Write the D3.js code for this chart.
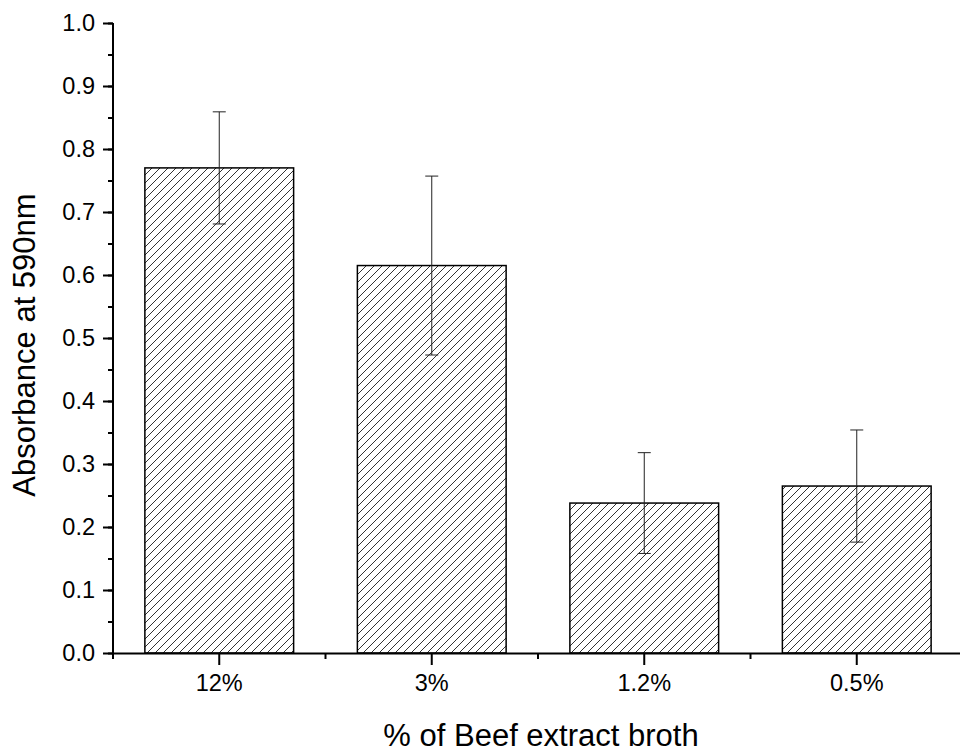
<!DOCTYPE html>
<html>
<head>
<meta charset="utf-8">
<script src="https://cdn.jsdelivr.net/npm/d3@7"></script>
<style>
  body { margin: 0; background: #fff; }
  text { font-family: "Liberation Sans", Arial, sans-serif; fill: #000; }
</style>
</head>
<body>
<div id="chart"></div>
<script>
// data
var categories = ["12%", "3%", "1.2%", "0.5%"];
var values = [0.770, 0.615, 0.238, 0.265];
var errors = [0.089, 0.142, 0.080, 0.089];
var yTicks = [0.0, 0.1, 0.2, 0.3, 0.4, 0.5, 0.6, 0.7, 0.8, 0.9, 1.0];

var margin = {top: 23, right: 0, bottom: 101, left: 113},
    width = 850,
    height = 754 - margin.top - margin.bottom;

var svg = d3.select("#chart")
  .append("svg")
  .attr("width", 960)
  .attr("height", 754)
  .append("g")
  .attr("transform", "translate(" + margin.left + "," + margin.top + ")");

// hatch fill
svg.append("defs").append("pattern")
  .attr("id", "hatch")
  .attr("patternUnits", "userSpaceOnUse")
  .attr("width", 8)
  .attr("height", 8)
  .append("path")
  .attr("d", "M-2,2 l4,-4 M0,8 l8,-8 M6,10 l4,-4")
  .attr("stroke", "#333")
  .attr("stroke-width", 1);

var x = d3.scaleBand()
  .domain(categories)
  .range([0, width])
  .paddingInner(0.3)
  .paddingOuter(0.15);

var y = d3.scaleLinear()
  .domain([0, 1])
  .range([height, 0]);

// bars
svg.selectAll(".bar")
  .data(values)
  .enter().append("rect")
  .attr("class", "bar")
  .attr("x", function(d, i) { return x(categories[i]); })
  .attr("y", function(d) { return y(d); })
  .attr("width", x.bandwidth())
  .attr("height", function(d) { return height - y(d); })
  .attr("fill", "url(#hatch)")
  .attr("stroke", "#000")
  .attr("stroke-width", 1.5);

// error bars
var err = svg.selectAll(".err")
  .data(values)
  .enter().append("g")
  .attr("class", "err")
  .attr("stroke", "#222")
  .attr("stroke-width", 1);
var cx = function(i) { return x(categories[i]) + x.bandwidth() / 2; };
err.append("line")
  .attr("x1", function(d, i) { return cx(i); })
  .attr("x2", function(d, i) { return cx(i); })
  .attr("y1", function(d, i) { return y(d + errors[i]); })
  .attr("y2", function(d, i) { return y(d - errors[i]); });
err.append("line")
  .attr("x1", function(d, i) { return cx(i) - 6.5; })
  .attr("x2", function(d, i) { return cx(i) + 6.5; })
  .attr("y1", function(d, i) { return y(d + errors[i]); })
  .attr("y2", function(d, i) { return y(d + errors[i]); });
err.append("line")
  .attr("x1", function(d, i) { return cx(i) - 6.5; })
  .attr("x2", function(d, i) { return cx(i) + 6.5; })
  .attr("y1", function(d, i) { return y(d - errors[i]); })
  .attr("y2", function(d, i) { return y(d - errors[i]); });

// Y axis: minor then major ticks
var minorY = d3.range(0, 1.0001, 0.05);
svg.append("g")
  .call(d3.axisLeft(y).tickValues(minorY).tickSize(5).tickFormat(""))
  .call(function(g) { g.select(".domain").remove(); })
  .selectAll("line").attr("stroke-width", 2);
var yAxis = svg.append("g")
  .call(d3.axisLeft(y).tickValues(yTicks).tickSize(10).tickPadding(8).tickFormat(d3.format(".1f")));
yAxis.select(".domain").attr("stroke-width", 2).attr("d", "M0," + y(1) + "V" + y(0));
yAxis.selectAll("line").attr("stroke-width", 2);
yAxis.selectAll("text").style("font-size", "23.5px");

// X axis: boundaries as minor ticks, centers as major
var xBottom = svg.append("g").attr("transform", "translate(0," + height + ")");
var bounds = categories.map(function(c) { return x(c) - x.step() * x.paddingInner() / 2; }).concat([width]);
xBottom.selectAll(".minor")
  .data(bounds)
  .enter().append("line")
  .attr("x1", function(d) { return d; })
  .attr("x2", function(d) { return d; })
  .attr("y1", 0).attr("y2", 6)
  .attr("stroke", "#000").attr("stroke-width", 2);
var xAxis = xBottom.call(d3.axisBottom(x).tickSize(12).tickPadding(9).tickSizeOuter(0));
xAxis.select(".domain").attr("stroke-width", 2);
xAxis.selectAll(".tick line").attr("stroke-width", 2);
xAxis.selectAll(".tick text").style("font-size", "23.5px");

// axis titles
svg.append("text")
  .attr("transform", "rotate(-90)")
  .attr("x", -height / 2 - 7)
  .attr("y", -margin.left + 35)
  .attr("text-anchor", "middle")
  .style("font-size", "31px")
  .text("Absorbance at 590nm");

svg.append("text")
  .attr("x", width / 2 + 3)
  .attr("y", height + 93)
  .attr("text-anchor", "middle")
  .style("font-size", "31px")
  .text("% of Beef extract broth");
</script>
</body>
</html>
